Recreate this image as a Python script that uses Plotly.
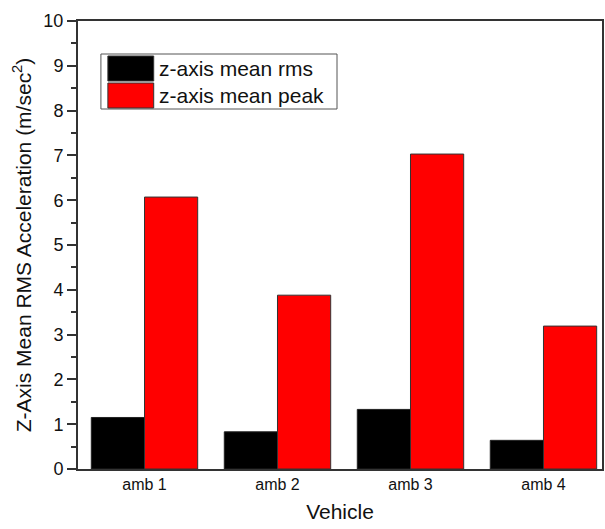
import plotly.graph_objects as go

categories = ["amb 1", "amb 2", "amb 3", "amb 4"]
rms_values = [1.15, 0.83, 1.33, 0.64]
peak_values = [6.07, 3.88, 7.03, 3.19]
series_names = ["z-axis mean rms", "z-axis mean peak"]
y_ticks = list(range(0, 11))

W, H = 605, 529
L, R, T, B = 78, 1, 21, 60
pw, ph = W - L - R, H - T - B

def px(x):
    return (x - L) / pw

def py(y):
    return (H - B - y) / ph

fig = go.Figure()
fig.add_trace(go.Bar(x=categories, y=rms_values, name=series_names[0],
                     marker=dict(color="black", line=dict(color="#222", width=1))))
fig.add_trace(go.Bar(x=categories, y=peak_values, name=series_names[1],
                     marker=dict(color="#ff0000", line=dict(color="#333", width=1))))

font = "Liberation Sans, Arial, sans-serif"
fig.update_layout(
    width=W, height=H, margin=dict(l=L, r=R, t=T, b=B),
    paper_bgcolor="white", plot_bgcolor="white",
    barmode="group", bargap=0.2, bargroupgap=0,
    showlegend=False,
    font=dict(family=font, color="#111"),
)
fig.update_xaxes(
    type="category", range=[-0.5, 3.44],
    showline=True, mirror=True, linecolor="#333", linewidth=2,
    ticks="", showgrid=False,
    tickfont=dict(size=16, family=font),
    title=dict(text="Vehicle", font=dict(size=21, family=font), standoff=12),
)
fig.update_yaxes(
    range=[0, 10], tickvals=y_ticks,
    showline=True, mirror=True, linecolor="#333", linewidth=2,
    ticks="outside", ticklen=9, tickwidth=1.5, tickcolor="#333",
    minor=dict(dtick=0.5, ticks="outside", ticklen=5, tickwidth=1.5, tickcolor="#333"),
    showgrid=False, zeroline=False,
    tickfont=dict(size=18, family=font),
    title=dict(text="Z-Axis Mean RMS Acceleration (m/sec<sup>2</sup>)",
               font=dict(size=21, family=font), standoff=6),
)

# legend box drawn manually to match the reference style
fig.add_shape(type="rect", xref="paper", yref="paper",
              x0=px(101), x1=px(338), y0=py(109), y1=py(54),
              line=dict(color="#555", width=1), fillcolor="white")
colors = ["black", "#ff0000"]
rows = [(56, 81), (83, 108)]
for name, col, (y0, y1) in zip(series_names, colors, rows):
    fig.add_shape(type="rect", xref="paper", yref="paper",
                  x0=px(108), x1=px(154), y0=py(y1), y1=py(y0),
                  line=dict(color="#333", width=1), fillcolor=col)
    fig.add_annotation(xref="paper", yref="paper", x=px(157), y=py((y0 + y1) / 2),
                       text=name, showarrow=False, xanchor="left", yanchor="middle",
                       font=dict(size=21, family=font, color="#111"))

fig.write_html("out.html", config={"displayModeBar": False},
               post_script="document.body.style.margin='0';document.body.style.overflow='hidden';")
